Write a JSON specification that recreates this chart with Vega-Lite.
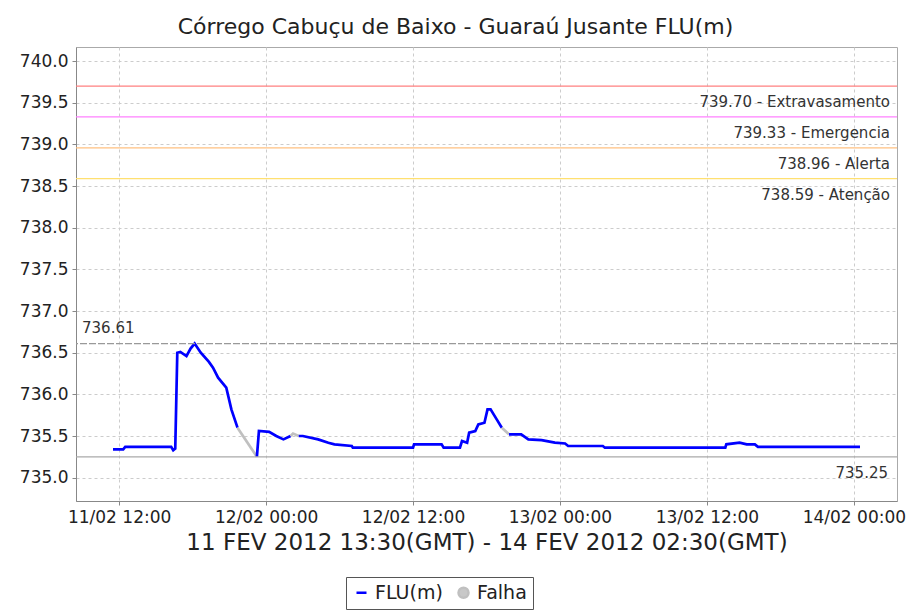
{
  "$schema": "https://vega.github.io/schema/vega-lite/v6.json",
  "width": 821,
  "height": 454,
  "autosize": {"type": "none"},
  "padding": {"left": 76, "top": 47, "right": 13, "bottom": 115},
  "background": "white",
  "title": {"text": "Córrego Cabuçu de Baixo - Guaraú Jusante FLU(m)", "font": "DejaVu Sans", "fontSize": 22, "fontWeight": "normal", "color": "#222", "anchor": "middle", "offset": 8, "dx": -31},
  "config": {"view": {"stroke": "#aaa"}, "font": "DejaVu Sans"},
  "datasets": {
    "serie": [
      {"t": "2012-02-11T11:30", "v": 735.34, "seg": "A", "s": "FLU(m)"},
      {"t": "2012-02-11T12:20", "v": 735.34, "seg": "A", "s": "FLU(m)"},
      {"t": "2012-02-11T12:30", "v": 735.37, "seg": "A", "s": "FLU(m)"},
      {"t": "2012-02-11T16:15", "v": 735.37, "seg": "A", "s": "FLU(m)"},
      {"t": "2012-02-11T16:25", "v": 735.33, "seg": "A", "s": "FLU(m)"},
      {"t": "2012-02-11T16:35", "v": 735.35, "seg": "A", "s": "FLU(m)"},
      {"t": "2012-02-11T16:45", "v": 736.50, "seg": "A", "s": "FLU(m)"},
      {"t": "2012-02-11T17:00", "v": 736.51, "seg": "A", "s": "FLU(m)"},
      {"t": "2012-02-11T17:30", "v": 736.46, "seg": "A", "s": "FLU(m)"},
      {"t": "2012-02-11T17:50", "v": 736.55, "seg": "A", "s": "FLU(m)"},
      {"t": "2012-02-11T18:10", "v": 736.61, "seg": "A", "s": "FLU(m)"},
      {"t": "2012-02-11T18:40", "v": 736.50, "seg": "A", "s": "FLU(m)"},
      {"t": "2012-02-11T19:20", "v": 736.39, "seg": "A", "s": "FLU(m)"},
      {"t": "2012-02-11T19:40", "v": 736.32, "seg": "A", "s": "FLU(m)"},
      {"t": "2012-02-11T20:05", "v": 736.20, "seg": "A", "s": "FLU(m)"},
      {"t": "2012-02-11T20:45", "v": 736.08, "seg": "A", "s": "FLU(m)"},
      {"t": "2012-02-11T21:10", "v": 735.82, "seg": "A", "s": "FLU(m)"},
      {"t": "2012-02-11T21:40", "v": 735.60, "seg": "A", "s": "FLU(m)"},
      {"t": "2012-02-11T21:40", "v": 735.60, "seg": "F1", "s": "Falha"},
      {"t": "2012-02-11T23:15", "v": 735.25, "seg": "F1", "s": "Falha"},
      {"t": "2012-02-11T23:15", "v": 735.25, "seg": "B", "s": "FLU(m)"},
      {"t": "2012-02-11T23:25", "v": 735.56, "seg": "B", "s": "FLU(m)"},
      {"t": "2012-02-12T00:15", "v": 735.55, "seg": "B", "s": "FLU(m)"},
      {"t": "2012-02-12T00:50", "v": 735.50, "seg": "B", "s": "FLU(m)"},
      {"t": "2012-02-12T01:25", "v": 735.46, "seg": "B", "s": "FLU(m)"},
      {"t": "2012-02-12T02:00", "v": 735.50, "seg": "B", "s": "FLU(m)"},
      {"t": "2012-02-12T02:00", "v": 735.50, "seg": "F2", "s": "Falha"},
      {"t": "2012-02-12T02:12", "v": 735.53, "seg": "F2", "s": "Falha"},
      {"t": "2012-02-12T02:40", "v": 735.50, "seg": "F2", "s": "Falha"},
      {"t": "2012-02-12T02:40", "v": 735.50, "seg": "C", "s": "FLU(m)"},
      {"t": "2012-02-12T03:00", "v": 735.50, "seg": "C", "s": "FLU(m)"},
      {"t": "2012-02-12T04:15", "v": 735.46, "seg": "C", "s": "FLU(m)"},
      {"t": "2012-02-12T05:05", "v": 735.42, "seg": "C", "s": "FLU(m)"},
      {"t": "2012-02-12T05:35", "v": 735.40, "seg": "C", "s": "FLU(m)"},
      {"t": "2012-02-12T07:00", "v": 735.38, "seg": "C", "s": "FLU(m)"},
      {"t": "2012-02-12T07:05", "v": 735.36, "seg": "C", "s": "FLU(m)"},
      {"t": "2012-02-12T12:00", "v": 735.36, "seg": "C", "s": "FLU(m)"},
      {"t": "2012-02-12T12:05", "v": 735.40, "seg": "C", "s": "FLU(m)"},
      {"t": "2012-02-12T14:20", "v": 735.40, "seg": "C", "s": "FLU(m)"},
      {"t": "2012-02-12T14:30", "v": 735.36, "seg": "C", "s": "FLU(m)"},
      {"t": "2012-02-12T15:50", "v": 735.36, "seg": "C", "s": "FLU(m)"},
      {"t": "2012-02-12T16:00", "v": 735.44, "seg": "C", "s": "FLU(m)"},
      {"t": "2012-02-12T16:25", "v": 735.42, "seg": "C", "s": "FLU(m)"},
      {"t": "2012-02-12T16:35", "v": 735.54, "seg": "C", "s": "FLU(m)"},
      {"t": "2012-02-12T17:05", "v": 735.56, "seg": "C", "s": "FLU(m)"},
      {"t": "2012-02-12T17:20", "v": 735.64, "seg": "C", "s": "FLU(m)"},
      {"t": "2012-02-12T17:50", "v": 735.66, "seg": "C", "s": "FLU(m)"},
      {"t": "2012-02-12T18:05", "v": 735.82, "seg": "C", "s": "FLU(m)"},
      {"t": "2012-02-12T18:20", "v": 735.82, "seg": "C", "s": "FLU(m)"},
      {"t": "2012-02-12T18:50", "v": 735.70, "seg": "C", "s": "FLU(m)"},
      {"t": "2012-02-12T19:15", "v": 735.60, "seg": "C", "s": "FLU(m)"},
      {"t": "2012-02-12T19:15", "v": 735.60, "seg": "F3", "s": "Falha"},
      {"t": "2012-02-12T19:50", "v": 735.52, "seg": "F3", "s": "Falha"},
      {"t": "2012-02-12T19:50", "v": 735.52, "seg": "D", "s": "FLU(m)"},
      {"t": "2012-02-12T20:50", "v": 735.52, "seg": "D", "s": "FLU(m)"},
      {"t": "2012-02-12T21:25", "v": 735.46, "seg": "D", "s": "FLU(m)"},
      {"t": "2012-02-12T22:30", "v": 735.45, "seg": "D", "s": "FLU(m)"},
      {"t": "2012-02-12T23:35", "v": 735.42, "seg": "D", "s": "FLU(m)"},
      {"t": "2012-02-13T00:25", "v": 735.41, "seg": "D", "s": "FLU(m)"},
      {"t": "2012-02-13T00:40", "v": 735.38, "seg": "D", "s": "FLU(m)"},
      {"t": "2012-02-13T03:30", "v": 735.38, "seg": "D", "s": "FLU(m)"},
      {"t": "2012-02-13T03:40", "v": 735.36, "seg": "D", "s": "FLU(m)"},
      {"t": "2012-02-13T13:30", "v": 735.36, "seg": "D", "s": "FLU(m)"},
      {"t": "2012-02-13T13:35", "v": 735.40, "seg": "D", "s": "FLU(m)"},
      {"t": "2012-02-13T14:40", "v": 735.42, "seg": "D", "s": "FLU(m)"},
      {"t": "2012-02-13T15:15", "v": 735.40, "seg": "D", "s": "FLU(m)"},
      {"t": "2012-02-13T15:55", "v": 735.40, "seg": "D", "s": "FLU(m)"},
      {"t": "2012-02-13T16:10", "v": 735.37, "seg": "D", "s": "FLU(m)"},
      {"t": "2012-02-14T00:30", "v": 735.37, "seg": "D", "s": "FLU(m)"}
    ],
    "niveis": [
      {"v": 739.70, "nivel": "Extravasamento", "label": "739.70 - Extravasamento"},
      {"v": 739.33, "nivel": "Emergencia", "label": "739.33 - Emergencia"},
      {"v": 738.96, "nivel": "Alerta", "label": "738.96 - Alerta"},
      {"v": 738.59, "nivel": "Atenção", "label": "738.59 - Atenção"}
    ],
    "extremos": [
      {"v": 736.61, "tipo": "max", "label": "736.61"},
      {"v": 735.25, "tipo": "min", "label": "735.25"}
    ]
  },
  "layer": [
    {
      "data": {"name": "serie"},
      "mark": {"type": "line", "strokeWidth": 2.7},
      "encoding": {
        "x": {
          "field": "t", "type": "temporal",
          "scale": {"padding": 37},
          "axis": {"title": "11 FEV 2012 13:30(GMT) - 14 FEV 2012 02:30(GMT)", "titleFont": "DejaVu Sans", "titleFontSize": 23, "titleFontWeight": "normal", "titleColor": "#222", "titlePadding": 6, "format": "%d/%m %H:%M", "tickCount": 6, "labelFont": "DejaVu Sans", "labelFontSize": 17, "labelColor": "#222", "labelPadding": 4, "tickSize": 4, "tickColor": "#888", "domainColor": "#888", "gridColor": "#cccccc", "gridDash": [3, 3], "labelFlush": false}
        },
        "y": {
          "field": "v", "type": "quantitative",
          "scale": {"domain": [734.72, 740.17], "nice": false, "zero": false},
          "axis": {"title": null, "values": [735.0, 735.5, 736.0, 736.5, 737.0, 737.5, 738.0, 738.5, 739.0, 739.5, 740.0], "format": ".1f", "labelFont": "DejaVu Sans", "labelFontSize": 17, "labelColor": "#222", "labelPadding": 4, "tickSize": 4, "tickColor": "#888", "domainColor": "#888", "gridColor": "#cccccc", "gridDash": [3, 3]}
        },
        "color": {
          "field": "s", "type": "nominal",
          "scale": {"domain": ["FLU(m)", "Falha"], "range": ["#0000ff", "#c0c0c0"]},
          "legend": {
            "title": null, "orient": "none", "legendX": 270, "legendY": 530, "direction": "horizontal",
            "labelFont": "DejaVu Sans", "labelFontSize": 19, "labelColor": "#222", "padding": 6, "strokeColor": "#555", "symbolStrokeWidth": 2.5,
            "encode": {
              "symbols": {"update": {
                "shape": {"signal": "datum.value === 'Falha' ? 'circle' : 'stroke'"},
                "fill": {"signal": "datum.value === 'Falha' ? '#c8c8c8' : 'transparent'"}
              }}
            }
          }
        },
        "detail": {"field": "seg", "type": "nominal"}
      }
    },
    {
      "data": {"name": "niveis"},
      "transform": [{"filter": "datum.nivel === 'Extravasamento'"}],
      "mark": {"type": "rule", "strokeWidth": 1.3, "color": "#ff8080"},
      "encoding": {"y": {"field": "v", "type": "quantitative"}}
    },
    {
      "data": {"name": "niveis"},
      "transform": [{"filter": "datum.nivel === 'Emergencia'"}],
      "mark": {"type": "rule", "strokeWidth": 1.3, "color": "#ff80ff"},
      "encoding": {"y": {"field": "v", "type": "quantitative"}}
    },
    {
      "data": {"name": "niveis"},
      "transform": [{"filter": "datum.nivel === 'Alerta'"}],
      "mark": {"type": "rule", "strokeWidth": 1.3, "color": "#ffc080"},
      "encoding": {"y": {"field": "v", "type": "quantitative"}}
    },
    {
      "data": {"name": "niveis"},
      "transform": [{"filter": "datum.nivel === 'Atenção'"}],
      "mark": {"type": "rule", "strokeWidth": 1.3, "color": "#ffe070"},
      "encoding": {"y": {"field": "v", "type": "quantitative"}}
    },
    {
      "data": {"name": "niveis"},
      "mark": {"type": "text", "align": "right", "baseline": "middle", "dx": -7, "dy": 16, "fontSize": 15, "font": "DejaVu Sans", "color": "#333"},
      "encoding": {
        "x": {"value": "width"},
        "y": {"field": "v", "type": "quantitative"},
        "text": {"field": "label"}
      }
    },
    {
      "data": {"name": "extremos"},
      "transform": [{"filter": "datum.tipo === 'max'"}],
      "mark": {"type": "rule", "color": "#999", "strokeWidth": 1.2, "strokeDash": [7, 2]},
      "encoding": {"y": {"field": "v", "type": "quantitative"}}
    },
    {
      "data": {"name": "extremos"},
      "transform": [{"filter": "datum.tipo === 'max'"}],
      "mark": {"type": "text", "align": "left", "baseline": "middle", "dx": 6, "dy": -16, "fontSize": 15, "font": "DejaVu Sans", "color": "#333"},
      "encoding": {
        "x": {"value": 0},
        "y": {"field": "v", "type": "quantitative"},
        "text": {"field": "label"}
      }
    },
    {
      "data": {"name": "extremos"},
      "transform": [{"filter": "datum.tipo === 'min'"}],
      "mark": {"type": "rule", "color": "#aaa", "strokeWidth": 1.2},
      "encoding": {"y": {"field": "v", "type": "quantitative"}}
    },
    {
      "data": {"name": "extremos"},
      "transform": [{"filter": "datum.tipo === 'min'"}],
      "mark": {"type": "text", "align": "right", "baseline": "middle", "dx": -9, "dy": 16, "fontSize": 15, "font": "DejaVu Sans", "color": "#333"},
      "encoding": {
        "x": {"value": "width"},
        "y": {"field": "v", "type": "quantitative"},
        "text": {"field": "label"}
      }
    }
  ]
}
